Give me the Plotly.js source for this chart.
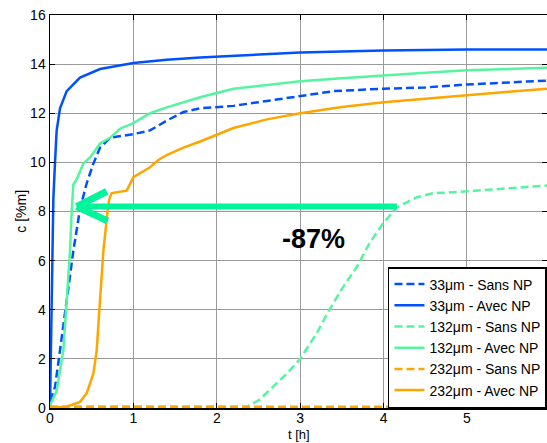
<!DOCTYPE html>
<html>
<head>
<meta charset="utf-8">
<script src="https://cdn.plot.ly/plotly-3.0.1.min.js"></script>
<style>html,body{margin:0;padding:0;background:#fff;}#chart{width:547px;height:443px;}</style>
</head>
<body>
<div id="chart"></div>
<script>
// Series names
const seriesNames = ["33μm - Sans NP","33μm - Avec NP","132μm - Sans NP","132μm - Avec NP","232μm - Sans NP","232μm - Avec NP"];

// 33 µm - Sans NP
const t33s = [0, 0.06, 0.12, 0.2, 0.28, 0.36, 0.44, 0.52, 0.6, 0.72, 1.0, 1.2, 1.4, 1.6, 1.8, 2.2, 2.6, 3.0, 3.4, 4.0, 4.5, 5.0, 5.5, 5.96];
const c33s = [0.3, 0.85, 2.35, 4.4, 6.4, 8.1, 9.15, 9.95, 10.6, 11.0, 11.15, 11.3, 11.7, 12.05, 12.2, 12.3, 12.5, 12.7, 12.9, 13.0, 13.05, 13.17, 13.25, 13.33];

// 33 µm - Avec NP
const t33a = [0, 0.02, 0.04, 0.06, 0.08, 0.12, 0.2, 0.36, 0.6, 1.0, 1.4, 1.8, 2.4, 3.0, 4.0, 5.0, 5.96];
const c33a = [0, 4, 8.5, 10, 11.3, 12.2, 12.9, 13.45, 13.8, 14.05, 14.18, 14.27, 14.38, 14.47, 14.55, 14.6, 14.6];

// 132 µm - Sans NP
const t132s = [0, 1, 2, 2.36, 2.51, 2.67, 2.84, 3.0, 3.2, 3.35, 3.51, 3.68, 3.83, 3.99, 4.16, 4.4, 4.59, 5.0, 5.47, 5.96];
const c132s = [0.05, 0.05, 0.05, 0.05, 0.33, 0.85, 1.4, 2.0, 3.05, 4.0, 4.9, 5.75, 6.7, 7.5, 8.17, 8.58, 8.74, 8.82, 8.94, 9.06];

// 132 µm - Avec NP
const t132a = [0, 0.08, 0.16, 0.2, 0.24, 0.26, 0.28, 0.32, 0.4, 0.48, 0.54, 0.6, 0.72, 0.84, 1.0, 1.2, 1.4, 1.8, 2.2, 2.6, 3.0, 3.5, 4.0, 4.5, 5.0, 5.5, 5.96];
const c132a = [0.1, 0.7, 2.35, 4.4, 6.4, 8.0, 9.1, 9.3, 9.95, 10.2, 10.5, 10.77, 11.0, 11.37, 11.6, 12.0, 12.24, 12.65, 13.0, 13.15, 13.3, 13.43, 13.55, 13.65, 13.75, 13.8, 13.85];

// 232 µm - Sans NP
const t232s = [0, 5.96];
const c232s = [0.05, 0.05];

// 232 µm - Avec NP
const t232a = [0, 0.2, 0.36, 0.44, 0.52, 0.56, 0.6, 0.64, 0.69, 0.71, 0.74, 0.84, 0.92, 1.0, 1.08, 1.2, 1.3, 1.4, 1.6, 1.8, 2.2, 2.6, 3.0, 3.5, 4.0, 4.5, 5.0, 5.5, 5.96];
const c232a = [0, 0.05, 0.25, 0.6, 1.4, 2.35, 4.4, 6.4, 8.0, 8.5, 8.75, 8.8, 8.85, 9.4, 9.55, 9.8, 10.1, 10.3, 10.6, 10.85, 11.4, 11.75, 12.0, 12.25, 12.45, 12.6, 12.75, 12.88, 13.0];

// Ticks
const xTicks = [0, 1, 2, 3, 4, 5];
const yTicks = [0, 2, 4, 6, 8, 10, 12, 14, 16];

// Axis titles
const xTitle = "t [h]";
const yTitle = "c [%m]";

// Annotation arrow (shaft start/end, head branches) and label
const arrowShaftX = [4.16, 0.33];
const arrowShaftY = [8.2, 8.2];
const arrowHeadUpX = [0.32, 0.68];
const arrowHeadUpY = [8.2, 8.82];
const arrowHeadLowX = [0.32, 0.69];
const arrowHeadLowY = [8.2, 7.62];
const labelText = "-87%";
const labelPos = [3.16, 6.9];

const BLUE = "#0050FF", GREEN = "#55F5A0", ORANGE = "#FFA500", ARROW = "#00F59A";
const DASH = "8px,4px";
const LW = 2.5;

function tr(x, y, name, color, dash) {
  return {x: x, y: y, name: name, type: "scatter", mode: "lines",
          line: {color: color, width: LW, dash: dash}};
}

const data = [
  tr(t33s, c33s, seriesNames[0], BLUE, DASH),
  tr(t33a, c33a, seriesNames[1], BLUE, "solid"),
  tr(t132s, c132s, seriesNames[2], GREEN, DASH),
  tr(t132a, c132a, seriesNames[3], GREEN, "solid"),
  tr(t232s, c232s, seriesNames[4], ORANGE, DASH),
  tr(t232a, c232a, seriesNames[5], ORANGE, "solid")
];

function seg(xs, ys, w) {
  return {type: "line", xref: "x", yref: "y", x0: xs[0], y0: ys[0], x1: xs[1], y1: ys[1],
          line: {color: ARROW, width: w}};
}

const FONT = "Arial, 'Liberation Sans', sans-serif";

const layout = {
  width: 547, height: 443,
  margin: {l: 50, r: 0, t: 15, b: 35, autoexpand: false},
  paper_bgcolor: "#fff", plot_bgcolor: "#fff",
  font: {family: FONT, size: 14, color: "#000"},
  showlegend: true,
  xaxis: {
    range: [0, 5.96], tickvals: xTicks, ticktext: xTicks.map(String),
    showgrid: true, gridcolor: "#9a9a9a", gridwidth: 1,
    showline: true, linecolor: "#000", linewidth: 1.5, mirror: "ticks",
    ticks: "inside", ticklen: 5, tickcolor: "#000", zeroline: false,
    tickfont: {size: 14}, ticklabelstandoff: -3
  },
  yaxis: {
    range: [0, 16], tickvals: yTicks, ticktext: yTicks.map(String),
    showgrid: true, gridcolor: "#9a9a9a", gridwidth: 1,
    showline: true, linecolor: "#000", linewidth: 1.5, mirror: "ticks",
    ticks: "inside", ticklen: 5, tickcolor: "#000", zeroline: false,
    tickfont: {size: 14}
  },
  legend: {
    x: 0.68, y: 0, xanchor: "left", yanchor: "bottom",
    bgcolor: "#fff", bordercolor: "#000", borderwidth: 1.5,
    font: {size: 14, family: FONT}, tracegroupgap: 0
  },
  shapes: [
    seg(arrowShaftX, arrowShaftY, 6),
    seg(arrowHeadUpX, arrowHeadUpY, 7),
    seg(arrowHeadLowX, arrowHeadLowY, 7)
  ],
  annotations: [
    {x: labelPos[0], y: labelPos[1], xref: "x", yref: "y", text: "<b>" + labelText + "</b>",
     showarrow: false, font: {size: 27, family: FONT, color: "#000"}},
    {x: 0.5, y: -0.068, xref: "paper", yref: "paper", text: xTitle, showarrow: false,
     xanchor: "center", yanchor: "middle", font: {size: 13, family: FONT, color: "#000"}},
    {x: -0.06, y: 0.5, xref: "paper", yref: "paper", text: yTitle, showarrow: false, textangle: -90,
     xanchor: "center", yanchor: "middle", font: {size: 14, family: FONT, color: "#000"}}
  ]
};

Plotly.newPlot("chart", data, layout, {displayModeBar: false, staticPlot: true});
</script>
</body>
</html>
